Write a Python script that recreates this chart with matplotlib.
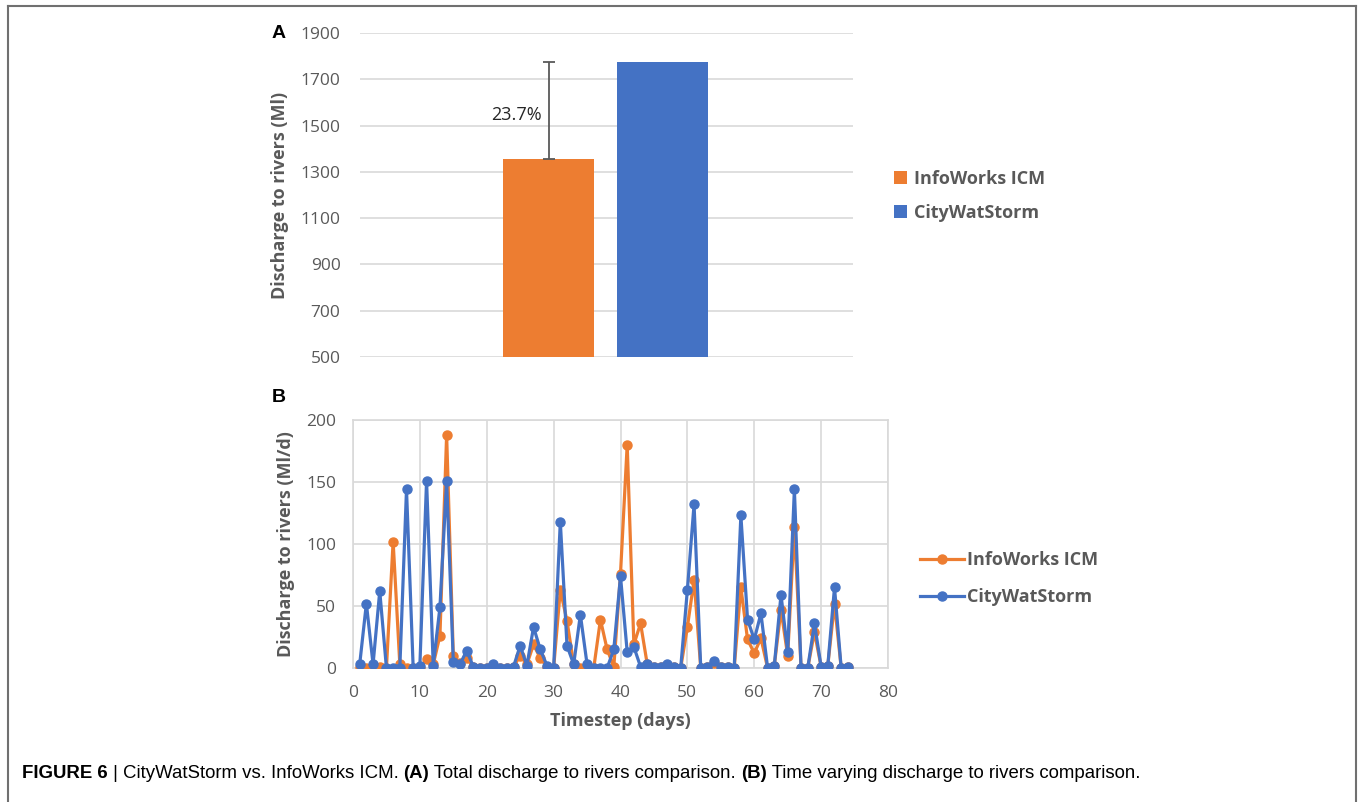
import matplotlib
matplotlib.use("Agg")
import matplotlib.pyplot as plt
from matplotlib.lines import Line2D

plt.rcParams['font.family'] = ['Open Sans', 'DejaVu Sans']

# panel A data
series = ["InfoWorks ICM", "CityWatStorm"]
totals = [1355, 1775]
bar_colors = ["#ED7D31", "#4472C4"]
diff_label = "23.7%"

# panel B data
days = list(range(1, 75))
infoworks = [1, 0, 1, 1, 0, 102, 3, 0, 0, 0,
             7, 3, 26, 188, 10, 4, 8, 1, 0, 0,
             2, 0, 0, 1, 10, 3, 19, 8, 1, 0,
             63, 38, 3, 0, 1, 0, 39, 15, 1, 76,
             180, 19, 36, 3, 1, 1, 2, 1, 0, 33,
             71, 0, 1, 4, 1, 1, 0, 65, 23, 12,
             24, 0, 2, 47, 10, 114, 0, 0, 29, 1,
             2, 52, 0, 1]
citywat = [3, 52, 3, 62, 0, 0, 0, 144, 0, 2,
           151, 2, 49, 151, 5, 3, 14, 1, 0, 0,
           3, 0, 0, 1, 18, 2, 33, 15, 2, 0,
           118, 18, 3, 43, 3, 0, 0, 0, 15, 74,
           13, 17, 1, 3, 1, 1, 3, 1, 0, 63,
           132, 0, 1, 6, 1, 1, 0, 123, 39, 23,
           44, 0, 2, 59, 13, 144, 0, 0, 36, 1,
           2, 65, 0, 1]

grey = "#595959"
gridc = "#D9D9D9"

fig = plt.figure(figsize=(13.6, 8.02), dpi=100)

# ---- panel A
axA = fig.add_axes([360/1360, 1-357/802, 493/1360, 324/802])
pos = [-0.6, 0.6]
for i in range(2):
    axA.bar(pos[i], totals[i], width=0.96, color=bar_colors[i], label=series[i], zorder=2)
axA.errorbar(pos[0], totals[0], yerr=[[0], [totals[1]-totals[0]]], fmt='none',
             ecolor=grey, elinewidth=1.3, capsize=4, capthick=1.3, zorder=3)
axA.text(pos[0]-0.07, (totals[0]+totals[1])/2-20, diff_label, ha='right', va='center',
         fontsize=13, color="#262626")
axA.set_xlim(-2.585, 2.605)
axA.set_ylim(500, 1900)
axA.set_yticks(range(500, 1901, 200))
axA.set_xticks([])
axA.grid(axis='y', color=gridc, linewidth=1.2, zorder=0)
for s in axA.spines.values():
    s.set_visible(False)
axA.tick_params(axis='y', length=0, labelsize=12.5, labelcolor=grey, pad=14)
axA.set_ylabel("Discharge to rivers (Ml)", fontsize=13, fontweight='bold', color=grey, labelpad=8)
leg = axA.legend(loc='center left', bbox_to_anchor=(1.05, 0.497), frameon=False,
                 handlelength=0.7, handleheight=0.7, handletextpad=0.4,
                 labelspacing=0.9, prop={'size': 13, 'weight': 'bold'})
for t in leg.get_texts():
    t.set_color(grey)

# ---- panel B
axB = fig.add_axes([353/1360, 1-668/802, 535/1360, 248/802])
axB.plot(days, infoworks, color="#ED7D31", marker='o', markersize=6.5, linewidth=2.3,
         label="InfoWorks ICM", zorder=3)
axB.plot(days, citywat, color="#4472C4", marker='o', markersize=6.5, linewidth=2.3,
         label="CityWatStorm", zorder=4)
axB.set_xlim(0, 80)
axB.set_ylim(0, 200)
axB.set_xticks(range(0, 81, 10))
axB.set_yticks(range(0, 201, 50))
axB.grid(True, color=gridc, linewidth=1.2, zorder=0)
for s in axB.spines.values():
    s.set_color(gridc)
    s.set_linewidth(1.2)
axB.tick_params(length=0, labelsize=12.5, labelcolor=grey)
axB.tick_params(axis='x', pad=12)
axB.tick_params(axis='y', pad=12)
axB.set_ylabel("Discharge to rivers (Ml/d)", fontsize=13, fontweight='bold', color=grey, labelpad=8)
axB.set_xlabel("Timestep (days)", fontsize=13, fontweight='bold', color=grey, labelpad=8)
legB = axB.legend(loc='center left', bbox_to_anchor=(1.03, 0.36), frameon=False,
                  handlelength=2.4, handletextpad=0.2, labelspacing=1.05,
                  prop={'size': 13, 'weight': 'bold'})
for t in legB.get_texts():
    t.set_color(grey)

# panel letters
fig.text(272/1360, 1-33/802, "A", fontsize=14, fontweight='bold', va='center', family=['Liberation Sans'])
fig.text(272/1360, 1-397/802, "B", fontsize=14, fontweight='bold', va='center', family=['Liberation Sans'])

# frame (no bottom edge)
fc = "#707070"
fig.add_artist(Line2D([8/1360, 8/1360], [0, 1-6/802], color=fc, lw=1.5, transform=fig.transFigure))
fig.add_artist(Line2D([8/1360, 1356/1360], [1-6/802, 1-6/802], color=fc, lw=1.5, transform=fig.transFigure))
fig.add_artist(Line2D([1356/1360, 1356/1360], [0, 1-6/802], color=fc, lw=1.5, transform=fig.transFigure))

# caption, built piece by piece so bold parts sit inline
cap_font = ['Liberation Sans Narrow', 'Liberation Sans']
x0 = 22/1360
yc = 1-774/802
fig.canvas.draw()
r = fig.canvas.get_renderer()
parts = [("FIGURE 6", 'bold'), (" | ", 'normal'), ("CityWatStorm vs. InfoWorks ICM. ", 'normal'),
         ("(A)", 'bold'), (" Total discharge to rivers comparison. ", 'normal'),
         ("(B)", 'bold'), (" Time varying discharge to rivers comparison.", 'normal')]
x = x0
for txt, w in parts:
    t = fig.text(x, yc, txt, fontsize=13.4, fontweight=w, va='center', family=cap_font)
    bb = t.get_window_extent(renderer=r)
    x += bb.width / fig.bbox.width

fig.savefig("out.png", dpi=100)
